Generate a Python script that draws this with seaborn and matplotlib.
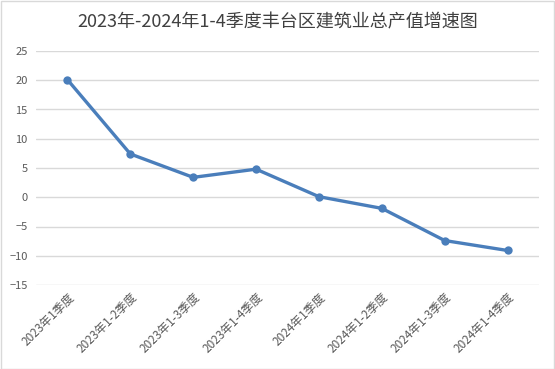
import matplotlib
matplotlib.use("Agg")
import matplotlib.pyplot as plt
import seaborn as sns
import pandas as pd
from matplotlib.patches import Rectangle

categories = ["2023年1季度", "2023年1-2季度", "2023年1-3季度", "2023年1-4季度",
              "2024年1季度", "2024年1-2季度", "2024年1-3季度", "2024年1-4季度"]
growth = [20.1, 7.4, 3.4, 4.8, 0.1, -1.9, -7.4, -9.1]
yticks = [-15, -10, -5, 0, 5, 10, 15, 20, 25]
title = "2023年-2024年1-4季度丰台区建筑业总产值增速图"

sns.set_theme(style="white")
plt.rcParams['font.family'] = ['Noto Sans CJK SC', 'DejaVu Sans']

df = pd.DataFrame({"cat": categories, "val": growth})

fig = plt.figure(figsize=(5.55, 3.69), dpi=100)
W, H = 555, 369
ax = fig.add_axes([36 / W, 1 - 285 / H, (539 - 36) / W, (285 - 51) / H])

sns.lineplot(data=df, x="cat", y="val", ax=ax, color="#4a7ebb", linewidth=2.4,
             marker="o", markersize=6, markeredgewidth=0, sort=False)

ax.set_ylim(-15, 25)
ax.set_yticks(yticks)
ax.set_xlim(-0.5, len(categories) - 0.5)
ax.yaxis.grid(True, color="#d9d9d9", linewidth=1)
ax.set_axisbelow(True)
for s in ax.spines.values():
    s.set_visible(False)
ax.set_xlabel("")
ax.set_ylabel("")
ax.tick_params(axis="y", length=0, labelsize=8, labelcolor="#595959", pad=6)
ax.tick_params(axis="x", length=0, labelsize=8.5, labelcolor="#595959", pad=4)
ax.set_xticks(range(len(categories)))
ax.set_xticklabels(categories, rotation=45, ha="right", rotation_mode="anchor")

fig.text(0.5, 1 - 22 / H, title, ha="center", va="center", fontsize=13, color="#404040")

fig.patches.append(Rectangle((0.5 / W, 0.5 / H), 1 - 1.5 / W, 1 - 1.5 / H, transform=fig.transFigure,
                             fill=False, edgecolor="#d9d9d9", linewidth=1))

fig.savefig("out.png", dpi=100)
